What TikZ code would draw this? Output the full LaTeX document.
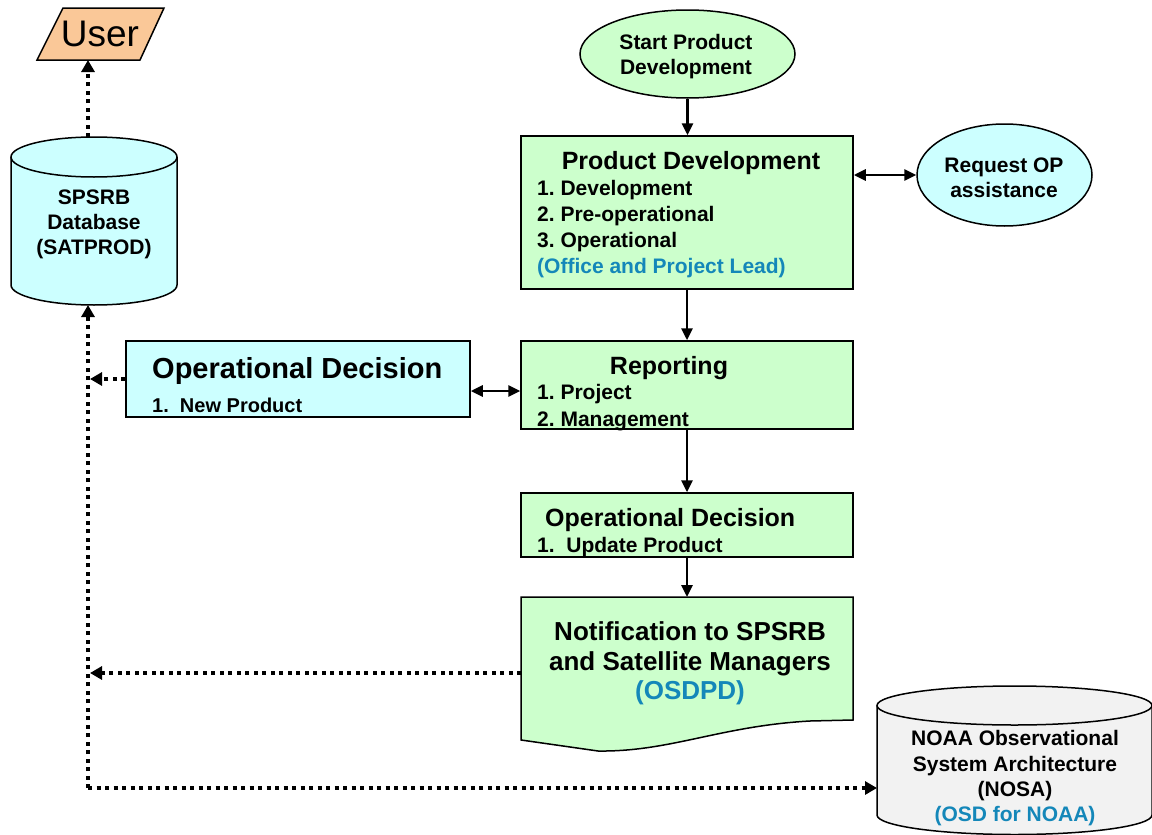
\documentclass[tikz,border=0pt]{standalone}
\usepackage{fontspec}
\setmainfont{Liberation Sans}
\usetikzlibrary{arrows.meta,shapes.geometric}
\definecolor{pgreen}{RGB}{204,255,204}
\definecolor{pcyan}{RGB}{204,255,255}
\definecolor{ppeach}{RGB}{250,200,152}
\definecolor{pgray}{RGB}{242,242,242}
\definecolor{pblue}{RGB}{20,135,185}
\frenchspacing
\begin{document}
\begin{tikzpicture}[x=1pt,y=1pt,
 boxshape/.style={draw=black, line width=1.5pt, inner sep=0pt},
 anchorbox/.style={inner sep=0pt, outer sep=0pt},
 ttitle/.style={inner sep=0pt, yshift=-2.5pt, font=\fontsize{25}{30}\selectfont\bfseries},
 titem/.style={inner sep=0pt, yshift=-2pt, font=\fontsize{21}{26}\selectfont\bfseries},
 tblock/.style={inner sep=0pt, yshift=-2.5pt, align=center, font=\fontsize{21}{25}\selectfont\bfseries},
 flow/.style={line width=2.8pt, -{Triangle[length=12pt,width=11pt]}},
 both/.style={line width=2.8pt, {Triangle[length=12pt,width=11pt]}-{Triangle[length=12pt,width=11pt]}},
 dotflow/.style={line width=4pt, dash pattern=on 4pt off 4.5pt, -{Triangle[length=12pt,width=13pt]}},
]
\useasboundingbox (0,0) rectangle (1152,-835);

% ---------- User ----------
\filldraw[fill=ppeach, draw=black, line width=1.5pt] (63,-8) -- (164,-8) -- (140,-60) -- (37,-60) -- cycle;
\node[anchorbox, minimum width=120pt, minimum height=52pt, font=\fontsize{37}{40}\selectfont] (user) at (100,-34) {\raisebox{-2pt}{User}};

% ---------- SPSRB database cylinder ----------
\filldraw[fill=pcyan, draw=black, line width=1.5pt] (11,-157) -- (11,-285) arc[start angle=180, end angle=360, x radius=83, y radius=20] -- (177,-157);
\filldraw[fill=pcyan, draw=black, line width=1.5pt] (94,-157) ellipse[x radius=83, y radius=20];
\node[anchorbox, minimum width=166pt, minimum height=168pt] (db) at (94,-221) {};
\node[tblock] (dbT) at (94,-222) {SPSRB\\Database\\(SATPROD)};

% ---------- Start ----------
\node[ellipse, draw=black, line width=1.5pt, fill=pgreen, inner sep=0pt, minimum width=215pt, minimum height=88pt] (start) at (687.5,-54) {};
\node[tblock] (startT) at (686,-54) {Start Product\\Development};

% ---------- Product Development ----------
\node[boxshape, fill=pgreen, minimum width=332pt, minimum height=153pt] (pd) at (687,-212.5) {};
\node[ttitle] (pdT) at (691,-161) {Product Development};
\node[titem, anchor=west] (pd1) at (537,-188) {1. Development};
\node[titem, anchor=west] (pd2) at (537,-214) {2. Pre-operational};
\node[titem, anchor=west] (pd3) at (537,-240) {3. Operational};
\node[titem, anchor=west, text=pblue] (pd4) at (537,-266) {(Office and Project Lead)};

% ---------- Request OP ----------
\node[ellipse, draw=black, line width=1.5pt, fill=pcyan, inner sep=0pt, minimum width=175pt, minimum height=102pt] (req) at (1004.5,-175) {};
\node[tblock] (reqT) at (1004,-175) {Request OP\\assistance};

% ---------- Reporting ----------
\node[boxshape, fill=pgreen, minimum width=332pt, minimum height=88pt] (rep) at (687,-385) {};
\node[ttitle] (repT) at (669,-366) {Reporting};
\node[titem, anchor=west] (rep1) at (537,-392) {1. Project};
\node[titem, anchor=west] (rep2) at (537,-419) {2. Management};

% ---------- Operational Decision (right) ----------
\node[boxshape, fill=pgreen, minimum width=332pt, minimum height=64pt] (opr) at (687,-525) {};
\node[ttitle, anchor=west] (oprT) at (545,-518) {Operational Decision};
\node[titem, anchor=west] (opr1) at (537,-545) {1.~~Update Product};

% ---------- Operational Decision (left) ----------
\node[boxshape, fill=pcyan, minimum width=344pt, minimum height=76pt] (opl) at (298,-379) {};
\node[anchor=west, inner sep=0pt, yshift=-2.5pt, font=\fontsize{29}{32}\selectfont\bfseries] (oplT) at (152,-368) {Operational Decision};
\node[anchor=west, inner sep=0pt, yshift=-2pt, font=\fontsize{20}{24}\selectfont\bfseries] (opl1) at (152,-403) {1.~~New Product};

% ---------- Notification (document) ----------
\filldraw[fill=pgreen, draw=black, line width=1.5pt] (521,-597) -- (853,-597) -- (853,-720) -- (810,-721)
  .. controls (720,-726) and (670,-752) .. (598,-751) -- (521,-740) -- cycle;
\node[anchorbox, minimum width=332pt, minimum height=152pt] (notif) at (687,-673) {};
\node[inner sep=0pt, align=center, yshift=-2.5pt, font=\fontsize{26}{29.5}\selectfont\bfseries] (notifT) at (690,-661)
  {Notification to SPSRB\\and Satellite Managers\\\textcolor{pblue}{(OSDPD)}};

% ---------- NOSA cylinder ----------
\filldraw[fill=pgray, draw=black, line width=1.5pt] (877,-705.5) -- (877,-815) arc[start angle=180, end angle=360, x radius=137.5, y radius=19.5] -- (1152,-705.5);
\filldraw[fill=pgray, draw=black, line width=1.5pt] (1014.5,-705.5) ellipse[x radius=137.5, y radius=19.5];
\node[anchorbox, minimum width=275pt, minimum height=149pt] (nosa) at (1014.5,-760.5) {};
\node[inner sep=0pt, align=center, yshift=-2.5pt, font=\fontsize{21}{25.3}\selectfont\bfseries] (nosaT) at (1015,-776)
  {NOAA Observational\\System Architecture\\(NOSA)\\\textcolor{pblue}{(OSD for NOAA)}};

% ---------- solid connectors ----------
\draw[flow] (start.south) -- (start.south |- pd.north);
\draw[both] (pd.east |- req.west) -- (req.west);
\draw[flow] (pd.south) -- (rep.north);
\draw[flow] (rep.south) -- (opr.north);
\draw[flow] (opr.south) -- (notif.north);
\coordinate (dl) at (0,-391);
\draw[both] (opl.east |- dl) -- (rep.west |- dl);

% ---------- dotted connectors ----------
\coordinate (corner) at (88,-788);
\draw[dotflow] (corner) -- (corner |- db.south);
\draw[dotflow] (corner) -- (corner -| nosa.west);
\draw[dotflow] (opl.west) -- ([xshift=2pt]opl.west -| corner);
\draw[dotflow] (notif.west) -- ([xshift=2pt]notif.west -| corner);
\draw[dotflow] (db.north -| corner) -- (user.south -| corner);
\end{tikzpicture}
\end{document}
